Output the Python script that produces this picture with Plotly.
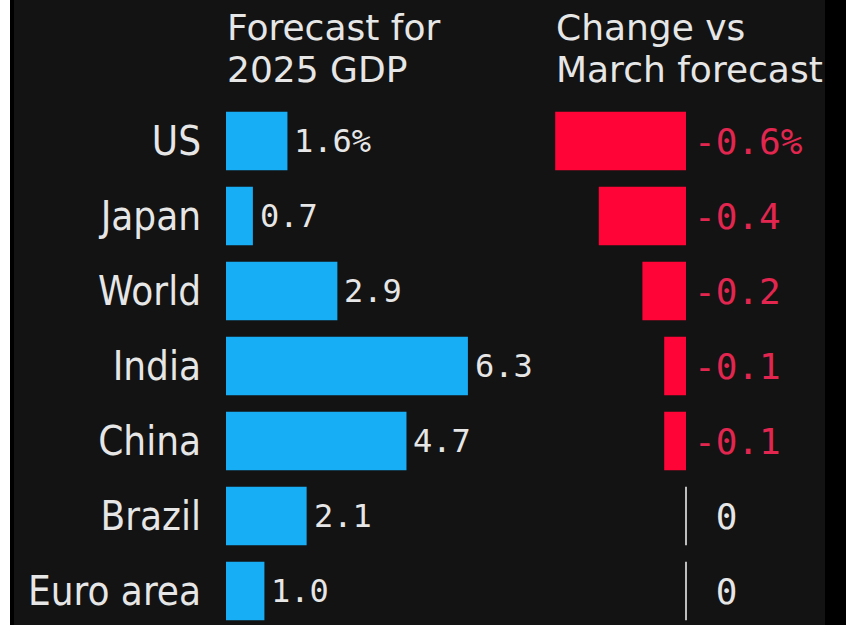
import plotly.graph_objects as go

countries = ["US", "Japan", "World", "India", "China", "Brazil", "Euro area"]
forecast_2025 = [1.6, 0.7, 2.9, 6.3, 4.7, 2.1, 1.0]
forecast_labels = ["1.6%", "0.7", "2.9", "6.3", "4.7", "2.1", "1.0"]
change_vs_march = [-0.6, -0.4, -0.2, -0.1, -0.1, 0.0, 0.0]
change_labels = ["-0.6%", "-0.4", "-0.2", "-0.1", "-0.1", "\u00a00", "\u00a00"]

W, H = 846, 625
BLUE = "#17aef6"
RED = "#ff0437"
RED_TXT = "#e3264f"
WHITE_TXT = "#e6e6e6"
BG = "#131313"
COND = "DejaVu Sans Condensed, DejaVu Sans"
SANS = "DejaVu Sans"
MONO = "DejaVu Sans Mono"

# pixel geometry
L0, L1 = 226, 545          # left panel px
lscale = 38.4              # px per unit
R0, R1 = 548, 826          # right panel px
rzero, rscale = 686, 218.0

fig = go.Figure()

fig.add_trace(go.Bar(
    x=forecast_2025, y=countries, orientation="h",
    marker=dict(color=BLUE, line=dict(width=0)),
    width=0.78,
    xaxis="x", yaxis="y", hoverinfo="skip",
))

fig.add_trace(go.Bar(
    x=change_vs_march, y=countries, orientation="h",
    marker=dict(color=RED, line=dict(width=0)),
    width=0.78,
    xaxis="x2", yaxis="y2", hoverinfo="skip",
))

annotations = []
for c, v, t in zip(countries, forecast_2025, forecast_labels):
    annotations.append(dict(
        text=t, x=v, y=c, xref="x", yref="y", xanchor="left", yanchor="middle",
        xshift=5, showarrow=False,
        font=dict(family=MONO, size=32, color=WHITE_TXT)))
for c, v, t in zip(countries, change_vs_march, change_labels):
    annotations.append(dict(
        text=t, x=0, y=c, xref="x2", yref="y2", xanchor="left", yanchor="middle",
        xshift=6, showarrow=False,
        font=dict(family=MONO, size=36, color=RED_TXT if v != 0 else WHITE_TXT)))

shapes = [
    dict(type="rect", xref="paper", yref="paper", x0=0, x1=10 / W, y0=0, y1=1,
         fillcolor="white", line=dict(width=0), layer="below"),
    dict(type="rect", xref="paper", yref="paper", x0=10 / W, x1=14 / W, y0=0, y1=1,
         fillcolor="black", line=dict(width=0), layer="below"),
    dict(type="rect", xref="paper", yref="paper", x0=825 / W, x1=1, y0=0, y1=1,
         fillcolor="black", line=dict(width=0), layer="below"),
]
for i, v in enumerate(change_vs_march):
    if v == 0:
        shapes.append(dict(type="line", xref="x2", yref="y2", x0=0, x1=0,
                           y0=i - 0.39, y1=i + 0.39,
                           line=dict(color="#bdbdbd", width=2)))

ytop_px = 141 - 37.5
ydom_top = (H - ytop_px) / H
ymax = -0.5 + (H - ytop_px) / 75.0

titles = [("Forecast for", 225, 28), ("2025 GDP", 225, 70),
          ("Change vs", 554, 28), ("March forecast", 554, 70)]
for t, xp, yp in titles:
    annotations.append(dict(
        text=t, x=xp / W, y=1 - yp / H, xref="paper", yref="paper",
        xanchor="left", yanchor="middle", showarrow=False,
        font=dict(family=SANS, size=36, color=WHITE_TXT)))

fig.update_layout(
    width=W, height=H,
    margin=dict(l=0, r=0, t=0, b=0),
    paper_bgcolor=BG, plot_bgcolor="rgba(0,0,0,0)",
    showlegend=False,
    barmode="overlay",
    xaxis=dict(domain=[L0 / W, L1 / W], range=[0, (L1 - L0) / lscale],
               visible=False, fixedrange=True),
    xaxis2=dict(domain=[R0 / W, R1 / W],
                range=[(R0 - rzero) / rscale, (R1 - rzero) / rscale],
                visible=False, fixedrange=True),
    yaxis=dict(domain=[0, ydom_top], range=[ymax, -0.5], type="category",
               categoryorder="array", categoryarray=countries,
               showgrid=False, zeroline=False, showline=False, ticks="",
               ticklabelstandoff=24, fixedrange=True,
               tickfont=dict(family=COND, size=40, color=WHITE_TXT)),
    yaxis2=dict(domain=[0, ydom_top], range=[ymax, -0.5], type="category",
                categoryorder="array", categoryarray=countries,
                anchor="x2", visible=False, fixedrange=True),
    shapes=shapes,
    annotations=annotations,
)

fig.write_html("out.html", config={"displayModeBar": False},
               post_script="document.body.style.margin='0px';")
